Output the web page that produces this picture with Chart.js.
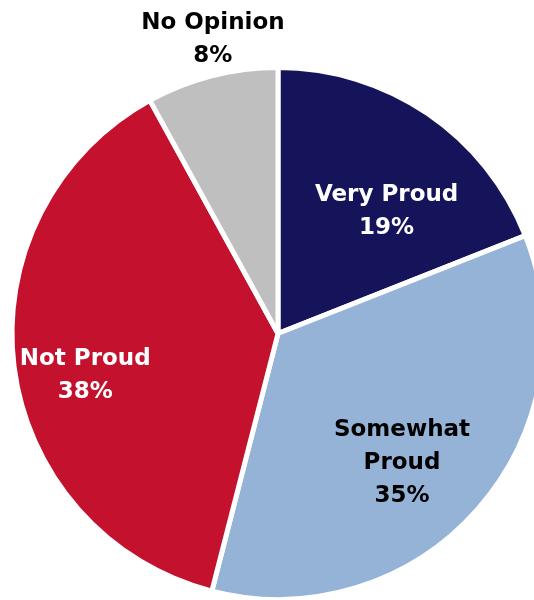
<!DOCTYPE html>
<html>
<head>
<meta charset="utf-8">
<script src="https://cdn.jsdelivr.net/npm/chart.js@4"></script>
<style>
  html, body { margin: 0; padding: 0; background: #fff; overflow: hidden; }
  #wrap { width: 556px; height: 602px; }
</style>
</head>
<body>
<div id="wrap"><canvas id="grafico" width="556" height="602"></canvas></div>
<script>
const categorias = ['Very Proud', 'Somewhat Proud', 'Not Proud', 'No Opinion'];
const valores = [19, 35, 38, 8];
const etiquetas = [['Very Proud', '19%'], ['Somewhat', 'Proud', '35%'], ['Not Proud', '38%'], ['No Opinion', '8%']];
const colores = ['#15145A', '#95B3D7', '#C3112E', '#BFBFBF'];
const coloresTexto = ['#ffffff', '#000000', '#ffffff', '#000000'];

// posicion de cada etiqueta: fraccion del radio y desplazamiento angular (grados)
const radioEtiqueta = [0.62, 0.67, 0.74, 1.14];
const giroEtiqueta = [7, 4.5, -4.5, 2];

const etiquetasPlugin = {
  id: 'etiquetas',
  afterDatasetsDraw(chart) {
    const ctx = chart.ctx;
    const meta = chart.getDatasetMeta(0);
    ctx.save();
    ctx.font = 'bold 23px "DejaVu Sans", sans-serif';
    ctx.textAlign = 'center';
    ctx.textBaseline = 'middle';
    meta.data.forEach((arc, i) => {
      const p = arc.getProps(['x', 'y', 'startAngle', 'endAngle', 'outerRadius'], true);
      const ang = (p.startAngle + p.endAngle) / 2 + giroEtiqueta[i] * Math.PI / 180;
      const r = p.outerRadius * radioEtiqueta[i];
      const cx = p.x + Math.cos(ang) * r;
      const cy = p.y + Math.sin(ang) * r + 2;
      const lineas = etiquetas[i];
      const alto = 33;
      ctx.fillStyle = coloresTexto[i];
      lineas.forEach((t, k) => {
        ctx.fillText(t, cx, cy + (k - (lineas.length - 1) / 2) * alto);
      });
    });
    ctx.restore();
  }
};

const ctx = document.getElementById('grafico').getContext('2d');
new Chart(ctx, {
  type: 'pie',
  data: {
    labels: categorias,
    datasets: [{
      data: valores,
      backgroundColor: colores,
      borderColor: '#ffffff',
      borderWidth: 5
    }]
  },
  options: {
    responsive: false,
    animation: false,
    layout: { padding: { top: 65, bottom: 0, left: 0, right: 0 } },
    plugins: {
      legend: { display: false },
      tooltip: { enabled: false }
    }
  },
  plugins: [etiquetasPlugin]
});
</script>
</body>
</html>
